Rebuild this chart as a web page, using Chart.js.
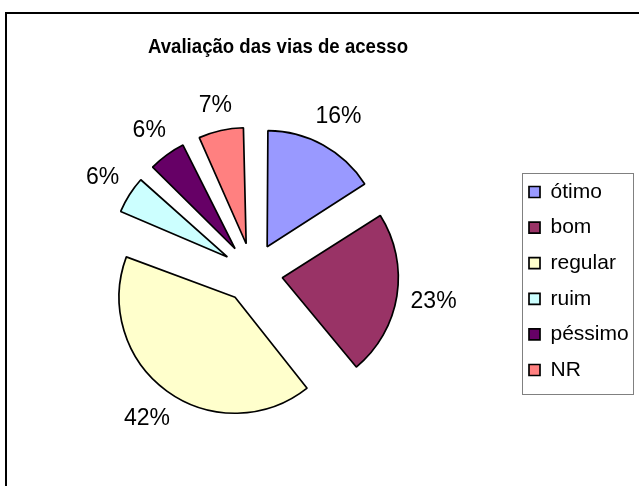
<!DOCTYPE html>
<html>
<head>
<meta charset="UTF-8">
<title>Avaliação das vias de acesso</title>
<script src="https://cdn.jsdelivr.net/npm/chart.js@4"></script>
<style>
    body { margin: 0; background: #fff; overflow: hidden; }
    #caixa { width: 648px; height: 486px; position: absolute; left: -9px; top: 0; }
</style>
</head>
<body>
<div id="caixa"><canvas id="grafico"></canvas></div>
<script>
const titulo = "Avaliação das vias de acesso";
const categorias = ["ótimo", "bom", "regular", "ruim", "péssimo", "NR"];
const valores = [16, 23, 42, 6, 6, 7];
const cores = ["#9999FF", "#993366", "#FFFFCC", "#CCFFFF", "#660066", "#FF8080"];

const RAIO = 116;
const DESLOCAMENTO = 120; // chart.js translada offset/4
const MARGEM = 9; // o canvas comeca 9px fora da janela

// moldura do grafico (estilo Excel) e titulo
const moldura = {
    id: 'moldura',
    beforeDraw(chart) {
        const ctx = chart.ctx;
        ctx.save();
        ctx.fillStyle = '#fff';
        ctx.fillRect(0, 0, chart.width, chart.height);
        ctx.strokeStyle = '#000';
        ctx.lineWidth = 2;
        ctx.beginPath();
        ctx.moveTo(MARGEM + 6, chart.height);
        ctx.lineTo(MARGEM + 6, 13);
        ctx.lineTo(chart.width, 13);
        ctx.stroke();
        ctx.font = 'bold 21px "Liberation Sans", Arial, sans-serif';
        ctx.fillStyle = '#000';
        ctx.textAlign = 'center';
        ctx.textBaseline = 'middle';
        ctx.fillText(titulo, MARGEM + 278, 47, 260);
        ctx.restore();
    }
};

// mantem o mesmo raio em todas as fatias destacadas
const raioFixo = {
    id: 'raioFixo',
    beforeDatasetsDraw(chart) {
        chart.getDatasetMeta(0).data.forEach(arco => {
            const fix = 1 - Math.sin(Math.min(Math.PI, arco.circumference));
            arco.outerRadius = RAIO - (DESLOCAMENTO / 4) * fix;
        });
    }
};

// rotulos de porcentagem fora das fatias
const rotulos = {
    id: 'rotulos',
    afterDatasetsDraw(chart) {
        const ctx = chart.ctx;
        const meta = chart.getDatasetMeta(0);
        ctx.save();
        ctx.font = '23px "Liberation Sans", Arial, sans-serif';
        ctx.fillStyle = '#000';
        ctx.textAlign = 'center';
        ctx.textBaseline = 'middle';
        meta.data.forEach((arco, i) => {
            const texto = valores[i] + '%';
            const meio = (arco.startAngle + arco.endAngle) / 2;
            const c = Math.cos(meio), s = Math.sin(meio);
            // distancia ate o centro do texto, encostando a caixa do texto num circulo
            const d = 159 + Math.abs(c) * ctx.measureText(texto).width / 2 + Math.abs(s) * 9;
            ctx.fillText(texto, arco.x + c * d, arco.y + s * d);
        });
        ctx.restore();
    }
};

// borda cinza da legenda
const bordaLegenda = {
    id: 'bordaLegenda',
    afterDraw(chart) {
        const caixas = chart.legend.legendHitBoxes;
        if (!caixas || !caixas.length) return;
        const primeiro = caixas[0];
        const ultimo = caixas[caixas.length - 1];
        const topo = Math.round(primeiro.top - 8.5);
        const ctx = chart.ctx;
        ctx.save();
        ctx.strokeStyle = '#808080';
        ctx.lineWidth = 1;
        ctx.strokeRect(Math.round(primeiro.left - 7) + 0.5, topo + 0.5,
            111, Math.round(ultimo.top + 34.5) - topo);
        ctx.restore();
    }
};

new Chart(document.getElementById('grafico'), {
    type: 'pie',
    data: {
        labels: categorias,
        datasets: [{
            data: valores,
            backgroundColor: cores,
            borderColor: '#000',
            borderWidth: 1.7,
            offset: DESLOCAMENTO,
            hoverOffset: 0
        }]
    },
    options: {
        responsive: true,
        maintainAspectRatio: false,
        animation: false,
        radius: RAIO,
        layout: { padding: { top: 60, left: 0, right: 0.3, bottom: 0 } },
        plugins: {
            title: { display: false },
            tooltip: { enabled: false },
            legend: {
                position: 'right',
                align: 'start',
                title: {
                    display: true,
                    text: ' ',
                    font: { size: 10 },
                    padding: { top: 94.9, bottom: 0 }
                },
                labels: {
                    boxWidth: 11,
                    boxHeight: 11,
                    padding: 14.6,
                    color: '#000',
                    font: { size: 21, family: '"Liberation Sans", Arial, sans-serif' }
                }
            }
        }
    },
    plugins: [moldura, raioFixo, rotulos, bordaLegenda]
});
</script>
</body>
</html>
